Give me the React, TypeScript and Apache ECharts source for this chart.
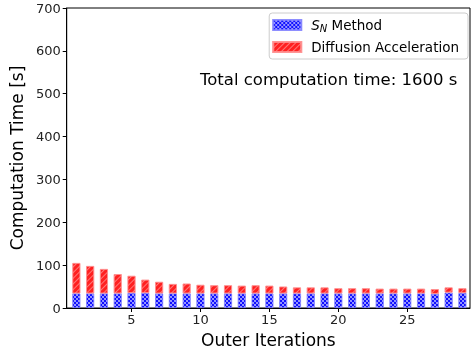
import React, { useEffect, useRef } from "react";
import * as echarts from "echarts";

const iterations = [1,2,3,4,5,6,7,8,9,10,11,12,13,14,15,16,17,18,19,20,21,22,23,24,25,26,27,28,29];
const snTimes = [34,34,34,34,35,35,34,34,34,34,34,34,34,34,34,34,34,34,34,34,34,34,34,34,34,34,33,36,35];
const accelTimes = [71,64,57,45,40,31,27,22,23,20,19,19,18,19,18,16,14,14,14,12,12,12,11,11,11,11,11,12,11];
const xTicks = [5,10,15,20,25];
const seriesNames = ["S_N Method", "Diffusion Acceleration"];
const totalText = "Total computation time: 1600 s";

const FONT = "DejaVu Sans";

export default function App() {
  const ref = useRef<HTMLDivElement>(null);
  useEffect(() => {
    if (!ref.current) return;
    const chart = echarts.init(ref.current, null, { renderer: "svg" });
    chart.setOption({
      animation: false,
      textStyle: { fontFamily: FONT },
      grid: { left: 65, top: 8, right: 1, bottom: 48, show: true, borderColor: "#000", borderWidth: 1, backgroundColor: "transparent" },
      xAxis: {
        type: "value",
        min: 0.3,
        max: 29.55,
        name: "Outer Iterations",
        nameLocation: "middle",
        nameGap: 23,
        nameTextStyle: { fontSize: 17, color: "#000", fontFamily: FONT },
        axisLine: { show: true, lineStyle: { color: "#000" } },
        axisTick: { show: true, customValues: xTicks, length: 4, lineStyle: { color: "#000" } },
        axisLabel: { customValues: xTicks, fontSize: 13, color: "#222", margin: 5, fontFamily: FONT },
        splitLine: { show: false },
      },
      yAxis: {
        type: "value",
        min: 0,
        max: 700,
        interval: 100,
        name: "Computation Time [s]",
        nameLocation: "middle",
        nameGap: 32,
        nameTextStyle: { fontSize: 17, color: "#000", fontFamily: FONT },
        axisLine: { show: true, lineStyle: { color: "#000" } },
        axisTick: { show: true, length: 4, lineStyle: { color: "#000" } },
        axisLabel: { fontSize: 13, color: "#222", margin: 6, fontFamily: FONT },
        splitLine: { show: false },
      },
      legend: {
        orient: "vertical",
        right: 3,
        top: 13,
        backgroundColor: "#fff",
        borderColor: "#ccc",
        borderWidth: 1,
        borderRadius: 3,
        padding: [5, 9, 5, 3],
        itemWidth: 28,
        itemHeight: 10,
        itemGap: 7,
        icon: "rect",
        data: seriesNames,
        formatter: (name: string) => (name === seriesNames[0] ? "{g|}{i|S}{s|N}{t| Method}" : "{g|}{t|" + name + "}"),
        textStyle: {
          fontFamily: FONT,
          color: "#000",
          fontSize: 13.5,
          rich: {
            g: { width: 5 },
            i: { fontStyle: "italic", fontSize: 13.5, fontFamily: FONT, color: "#000" },
            s: { fontStyle: "italic", fontSize: 10, fontFamily: FONT, color: "#000", padding: [6, 0, 0, 0] },
            t: { fontSize: 13.5, fontFamily: FONT, color: "#000" },
          },
        },
      },
      graphic: [
        {
          type: "text",
          left: 200,
          top: 71,
          style: { text: totalText, fontSize: 16.5, fontFamily: FONT, fill: "#000" },
        },
      ],
      series: [
        {
          name: seriesNames[0],
          type: "bar",
          stack: "t",
          barWidth: 8,
          barGap: "-100%",
          encode: { x: 1, y: 0 },
          data: iterations.map((x, i) => [snTimes[i], x]),
          itemStyle: {
            color: "#1010ff",
            borderColor: "rgba(120,120,255,0.6)",
            borderWidth: 0.8,
            decal: {
              symbol: "circle",
              symbolSize: 0.8,
              color: "rgba(255,255,255,0.85)",
              dashArrayX: [[2, 2], [0, 2, 2, 0]],
              dashArrayY: [2, 0],
              rotation: 0,
            },
          },
        },
        {
          name: seriesNames[1],
          type: "bar",
          stack: "t",
          barWidth: 8,
          barGap: "-100%",
          encode: { x: 1, y: 0 },
          data: iterations.map((x, i) => [accelTimes[i], x]),
          itemStyle: {
            color: "#ff2020",
            borderColor: "rgba(255,140,140,0.7)",
            borderWidth: 0.8,
            decal: {
              symbol: "rect",
              symbolSize: 1,
              color: "rgba(255,190,190,0.55)",
              dashArrayX: [1, 0],
              dashArrayY: [1, 2.8],
              rotation: -Math.PI / 4,
            },
          },
        },
      ],
    });
    return () => chart.dispose();
  }, []);
  return <div ref={ref} style={{ position: "fixed", left: 0, top: 0, width: 471, height: 356 }} />;
}
